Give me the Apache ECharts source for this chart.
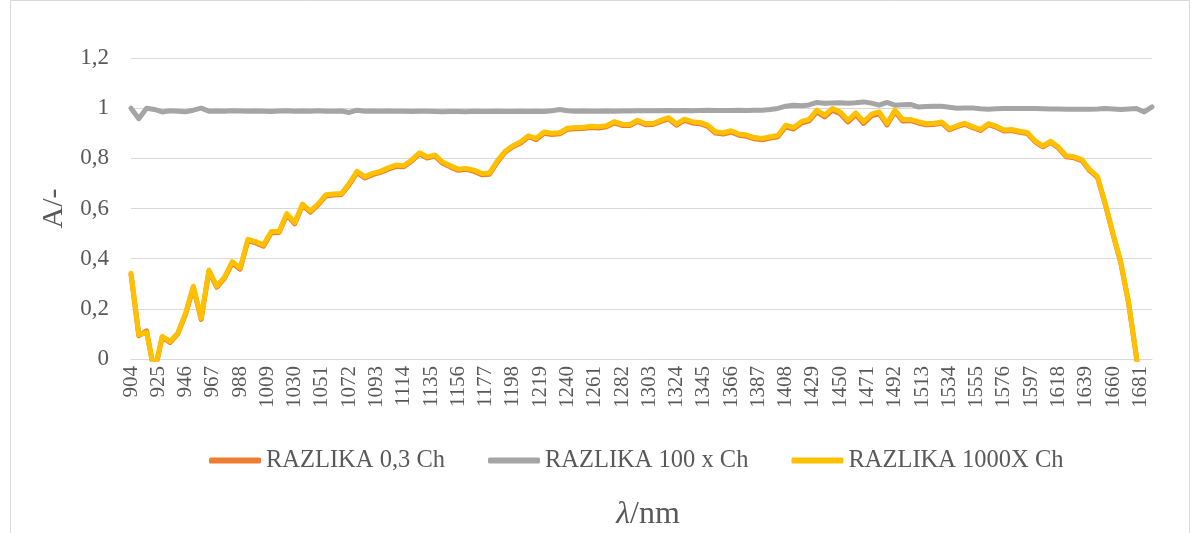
<!DOCTYPE html>
<html>
<head>
<meta charset="utf-8">
<script src="https://cdn.jsdelivr.net/npm/echarts@6/dist/echarts.min.js"></script>
<style>html,body{margin:0;padding:0;background:#fff;}#c{width:1200px;height:533px;}</style>
</head>
<body>
<div id="c"></div>
<script>
// Category axis: wavelength in nm (3 nm step), labels every 21 nm
const wlStart = 904, wlEnd = 1690, wlStep = 3;
const categories = [];
for (let w = wlStart; w <= wlEnd; w += wlStep) categories.push(String(w));

const seriesNames = ['RAZLIKA 0,3 Ch', 'RAZLIKA 100 x Ch', 'RAZLIKA 1000X Ch'];

// Values read at every second category (904, 910, 916, ... 1690 nm)
const razlika03 = [
0.338,0.093,0.112,-0.055,0.087,0.066,0.100,0.178,0.285,0.158,
0.350,0.286,0.322,0.383,0.358,0.472,0.463,0.450,0.503,0.504,
0.575,0.539,0.613,0.585,0.614,0.650,0.654,0.656,0.695,0.743,
0.722,0.735,0.744,0.757,0.768,0.766,0.789,0.818,0.801,0.809,
0.780,0.765,0.752,0.756,0.748,0.735,0.737,0.785,0.824,0.846,
0.861,0.886,0.875,0.900,0.895,0.898,0.916,0.918,0.919,0.923,
0.921,0.926,0.941,0.931,0.931,0.947,0.934,0.935,0.947,0.957,
0.932,0.951,0.941,0.938,0.927,0.901,0.897,0.905,0.892,0.888,
0.878,0.874,0.881,0.886,0.926,0.917,0.940,0.949,0.985,0.965,
0.992,0.978,0.945,0.974,0.939,0.969,0.978,0.933,0.986,0.949,
0.950,0.941,0.934,0.935,0.941,0.914,0.926,0.936,0.922,0.911,
0.934,0.924,0.909,0.911,0.904,0.899,0.866,0.846,0.864,0.841,
0.806,0.802,0.791,0.751,0.724,0.617,0.497,0.382,0.222,0.008,
-0.250,-0.500];

const razlika100 = [
1.000,0.958,1.000,0.995,0.985,0.990,0.988,0.986,0.992,1.000,
0.988,0.989,0.988,0.990,0.989,0.988,0.989,0.988,0.987,0.989,
0.990,0.988,0.989,0.988,0.990,0.988,0.988,0.989,0.983,0.992,
0.988,0.989,0.988,0.989,0.988,0.988,0.987,0.988,0.988,0.987,
0.986,0.987,0.987,0.986,0.988,0.987,0.987,0.988,0.987,0.987,
0.988,0.987,0.988,0.987,0.990,0.995,0.990,0.988,0.989,0.988,
0.988,0.989,0.988,0.989,0.989,0.990,0.990,0.990,0.990,0.991,
0.990,0.991,0.990,0.991,0.992,0.991,0.991,0.991,0.992,0.991,
0.992,0.992,0.995,0.999,1.008,1.012,1.010,1.013,1.023,1.020,
1.021,1.022,1.020,1.022,1.025,1.020,1.012,1.023,1.012,1.014,
1.015,1.005,1.007,1.008,1.008,1.004,1.000,1.001,1.001,0.998,
0.996,0.998,0.999,0.999,0.999,0.999,0.999,0.998,0.997,0.997,
0.996,0.996,0.996,0.996,0.997,0.999,0.997,0.995,0.997,0.999,
0.985,1.005];

const razlika1000 = [
0.342,0.097,0.106,-0.050,0.090,0.070,0.103,0.183,0.290,0.163,
0.355,0.290,0.326,0.388,0.363,0.477,0.468,0.455,0.508,0.508,
0.580,0.544,0.618,0.590,0.618,0.655,0.658,0.660,0.700,0.748,
0.727,0.740,0.748,0.762,0.773,0.770,0.793,0.822,0.806,0.813,
0.785,0.770,0.757,0.760,0.753,0.740,0.742,0.790,0.828,0.850,
0.866,0.890,0.880,0.905,0.900,0.902,0.920,0.923,0.923,0.928,
0.926,0.930,0.946,0.936,0.935,0.952,0.939,0.939,0.952,0.962,
0.937,0.956,0.946,0.943,0.932,0.906,0.902,0.910,0.897,0.893,
0.883,0.879,0.886,0.891,0.932,0.923,0.946,0.955,0.992,0.972,
0.999,0.985,0.952,0.981,0.946,0.976,0.985,0.939,0.992,0.955,
0.955,0.946,0.939,0.939,0.945,0.918,0.930,0.940,0.926,0.915,
0.938,0.928,0.913,0.915,0.908,0.903,0.870,0.850,0.868,0.845,
0.810,0.806,0.795,0.755,0.728,0.620,0.500,0.385,0.225,0.010,
-0.250,-0.500];

const yTicks = { min: 0, max: 1.2, interval: 0.2 };
const colors = ['#ED7D31', '#A5A5A5', '#FFC000'];

function expand(vals) {
  const out = new Array(categories.length).fill(null);
  vals.forEach((v, i) => { out[i * 2] = v; });
  return out;
}

const FONT = '"Liberation Serif","Times New Roman",serif';
const TXT = '#595959';

const chart = echarts.init(document.getElementById('c'), null, { renderer: 'canvas' });
chart.setOption({
  animation: false,
  backgroundColor: '#ffffff',
  color: colors,
  graphic: [{
    type: 'rect', silent: true, z: -10,
    shape: { x: 10.5, y: 0.5, width: 1179, height: 560 },
    style: { fill: 'none', stroke: '#d9d9d9', lineWidth: 1 }
  }],
  grid: { left: 131, right: 48, top: 58, bottom: 174, containLabel: false, outerBoundsMode: 'none' },
  legend: {
    data: seriesNames,
    top: 443, left: 204,
    itemGap: 43, itemWidth: 52, itemHeight: 6,
    icon: 'roundRect',
    textStyle: { fontFamily: FONT, fontSize: 24.5, color: TXT }
  },
  xAxis: {
    type: 'category',
    data: categories,
    boundaryGap: false,
    name: '{i|λ}/nm',
    nameLocation: 'middle',
    nameGap: 140,
    nameTextStyle: {
      fontFamily: FONT, fontSize: 32, color: TXT, padding: [0, 0, 0, 13],
      rich: { i: { fontFamily: FONT, fontSize: 32, fontStyle: 'italic', color: TXT } }
    },
    axisLine: { lineStyle: { color: '#d9d9d9', width: 1 } },
    axisTick: { show: false },
    axisLabel: {
      interval: 6, rotate: 90, margin: 7,
      fontFamily: FONT, fontSize: 21, color: TXT
    },
    splitLine: { show: false }
  },
  yAxis: {
    type: 'value',
    min: yTicks.min, max: yTicks.max, interval: yTicks.interval,
    name: 'A/-',
    nameLocation: 'middle',
    nameGap: 57,
    nameRotate: 90,
    nameTextStyle: { fontFamily: FONT, fontSize: 30, color: TXT },
    axisLine: { show: false },
    axisTick: { show: false },
    axisLabel: {
      margin: 22, fontFamily: FONT, fontSize: 23, color: TXT,
      formatter: v => String(+v.toFixed(1)).replace('.', ',')
    },
    splitLine: { lineStyle: { color: '#d9d9d9', width: 1 } }
  },
  series: [
    { name: seriesNames[0], type: 'line', data: expand(razlika03), connectNulls: true, showSymbol: false, symbol: 'none',
      lineStyle: { width: 5, color: colors[0], cap: 'round', join: 'round' }, z: 2 },
    { name: seriesNames[1], type: 'line', data: expand(razlika100), connectNulls: true, showSymbol: false, symbol: 'none',
      lineStyle: { width: 5, color: colors[1], cap: 'round', join: 'round' }, z: 3 },
    { name: seriesNames[2], type: 'line', data: expand(razlika1000), connectNulls: true, showSymbol: false, symbol: 'none',
      lineStyle: { width: 5, color: colors[2], cap: 'round', join: 'round' }, z: 4 }
  ]
});
</script>
</body>
</html>
